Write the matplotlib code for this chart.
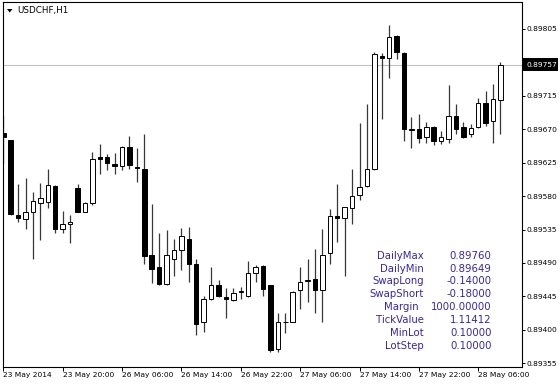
import matplotlib
matplotlib.use('Agg')
import matplotlib.pyplot as plt
import numpy as np
from matplotlib.patches import Rectangle, Polygon

# USDCHF H1 bars
opens = [0.89665, 0.89656, 0.89554, 0.89549, 0.89559, 0.89571, 0.89572, 0.89593, 0.89536, 0.89543,
         0.89591, 0.89559, 0.89571, 0.89632, 0.89633, 0.89623, 0.89621, 0.89646, 0.89619, 0.89617,
         0.89501, 0.89484, 0.89462, 0.89496, 0.89507, 0.89522, 0.89489, 0.89410, 0.89441, 0.89461,
         0.89444, 0.89440, 0.89451, 0.89445, 0.89476, 0.89486, 0.89460, 0.89374, 0.89411, 0.89411,
         0.89453, 0.89466, 0.89469, 0.89453, 0.89504, 0.89553, 0.89551, 0.89564, 0.89581, 0.89594,
         0.89616, 0.89768, 0.89766, 0.89796, 0.89773, 0.89670, 0.89671, 0.89660, 0.89673, 0.89654,
         0.89657, 0.89688, 0.89673, 0.89664, 0.89673, 0.89706, 0.89681, 0.89710]
highs = [0.89688, 0.89656, 0.89596, 0.89604, 0.89586, 0.89598, 0.89616, 0.89595, 0.89560, 0.89555,
         0.89596, 0.89572, 0.89640, 0.89650, 0.89637, 0.89638, 0.89647, 0.89661, 0.89645, 0.89664,
         0.89569, 0.89530, 0.89535, 0.89522, 0.89537, 0.89539, 0.89496, 0.89445, 0.89485, 0.89467,
         0.89456, 0.89456, 0.89458, 0.89493, 0.89487, 0.89487, 0.89461, 0.89423, 0.89423, 0.89452,
         0.89484, 0.89496, 0.89509, 0.89536, 0.89562, 0.89596, 0.89566, 0.89616, 0.89678, 0.89704,
         0.89774, 0.89773, 0.89810, 0.89797, 0.89774, 0.89687, 0.89691, 0.89680, 0.89674, 0.89667,
         0.89729, 0.89704, 0.89680, 0.89677, 0.89712, 0.89721, 0.89731, 0.89760]
lows = [0.89625, 0.89554, 0.89545, 0.89536, 0.89496, 0.89521, 0.89564, 0.89531, 0.89531, 0.89517,
        0.89558, 0.89558, 0.89568, 0.89610, 0.89615, 0.89610, 0.89615, 0.89616, 0.89599, 0.89488,
        0.89463, 0.89460, 0.89461, 0.89472, 0.89481, 0.89465, 0.89393, 0.89397, 0.89440, 0.89444,
        0.89416, 0.89439, 0.89441, 0.89444, 0.89464, 0.89445, 0.89370, 0.89370, 0.89396, 0.89410,
        0.89428, 0.89438, 0.89423, 0.89410, 0.89488, 0.89518, 0.89473, 0.89542, 0.89575, 0.89592,
        0.89615, 0.89684, 0.89739, 0.89764, 0.89654, 0.89645, 0.89652, 0.89651, 0.89649, 0.89650,
        0.89651, 0.89664, 0.89658, 0.89660, 0.89672, 0.89675, 0.89652, 0.89663]
closes = [0.89659, 0.89556, 0.89550, 0.89558, 0.89573, 0.89578, 0.89595, 0.89536, 0.89543, 0.89545,
          0.89559, 0.89571, 0.89630, 0.89630, 0.89625, 0.89620, 0.89646, 0.89622, 0.89618, 0.89500,
          0.89482, 0.89462, 0.89501, 0.89508, 0.89526, 0.89488, 0.89408, 0.89442, 0.89460, 0.89445,
          0.89441, 0.89450, 0.89452, 0.89476, 0.89484, 0.89455, 0.89373, 0.89411, 0.89410, 0.89451,
          0.89465, 0.89467, 0.89453, 0.89501, 0.89553, 0.89551, 0.89565, 0.89580, 0.89592, 0.89616,
          0.89771, 0.89766, 0.89794, 0.89774, 0.89670, 0.89669, 0.89658, 0.89673, 0.89654, 0.89659,
          0.89688, 0.89670, 0.89660, 0.89672, 0.89706, 0.89679, 0.89711, 0.89757]

time_pos = [0, 8, 16, 24, 32, 40, 48, 56, 64]
time_labels = ['23 May 2014', '23 May 20:00', '26 May 06:00', '26 May 14:00', '26 May 22:00',
               '27 May 06:00', '27 May 14:00', '27 May 22:00', '28 May 06:00']
price_ticks = [0.89355, 0.89400, 0.89445, 0.89490, 0.89535, 0.89580,
               0.89625, 0.89670, 0.89715, 0.89805]
last_price = 0.89757

info_names = ['DailyMax', 'DailyMin', 'SwapLong', 'SwapShort', 'Margin', 'TickValue', 'MinLot', 'LotStep']
info_values = ['0.89760', '0.89649', '-0.14000', '-0.18000', '1000.00000', '1.11412', '0.10000', '0.10000']

W, H = 560, 384
fig = plt.figure(figsize=(W / 100, H / 100), dpi=100)
ax = fig.add_axes([2.7 / W, 1 - 367 / H, 518.8 / W, 365 / H])

o = np.array(opens)
h = np.array(highs)
l = np.array(lows)
c = np.array(closes)
x = np.arange(len(o))
up = c >= o

ax.axhline(last_price, color='#c0c0c0', lw=0.8, zorder=1)
ax.vlines(x, l, h, color='#383838', lw=0.9, zorder=2)
body_lo = np.minimum(o, c)
body_h = np.maximum(np.abs(c - o), 0.000012)
ax.bar(x, body_h, bottom=body_lo, width=0.6, color=np.where(up, 'white', 'black'),
       edgecolor='black', linewidth=0.7, zorder=3)

ax.set_xlim(-0.08, 69.83)
ax.set_ylim(0.89350, 0.898413)

for s in ax.spines.values():
    s.set_color('black')
    s.set_linewidth(0.8)

ax.yaxis.tick_right()
ax.set_yticks(price_ticks)
ax.set_yticklabels(['%.5f' % v for v in price_ticks])
ax.tick_params(axis='y', length=2.5, width=0.7, pad=0.8, labelsize=5.4)

ax.set_xticks(time_pos)
ax.set_xticklabels(time_labels)
for lab in ax.get_xticklabels():
    lab.set_horizontalalignment('left')
ax.tick_params(axis='x', length=3.2, width=0.7, pad=0.6, labelsize=5.4)

# current price tag
fig.add_artist(Rectangle((522 / W, 1 - 71 / H), 36 / W, 12.5 / H, transform=fig.transFigure,
                         facecolor='black', edgecolor='none'))
fig.text(526.5 / W, 1 - 65 / H, '%.5f' % last_price, color='white', fontsize=5.4,
         ha='left', va='center')

# symbol header
fig.add_artist(Polygon([(7 / W, 1 - 9 / H), (12.5 / W, 1 - 9 / H), (9.75 / W, 1 - 12.5 / H)],
                       closed=True, transform=fig.transFigure, facecolor='black', edgecolor='none'))
fig.text(17 / W, 1 - 10 / H, 'USDCHF,H1', fontsize=6.3, ha='left', va='center')

# info block
info_color = '#3526a8'
for i, (name, val) in enumerate(zip(info_names, info_values)):
    yy = 1 - (255.7 + i * 12.9) / H
    xr = 419 if name == 'Margin' else 424
    fig.text(xr / W, yy, name, color=info_color, fontsize=7.3, ha='right', va='center')
    fig.text(491.5 / W, yy, val, color=info_color, fontsize=7.3, ha='right', va='center')

fig.savefig('out.png', dpi=100)
